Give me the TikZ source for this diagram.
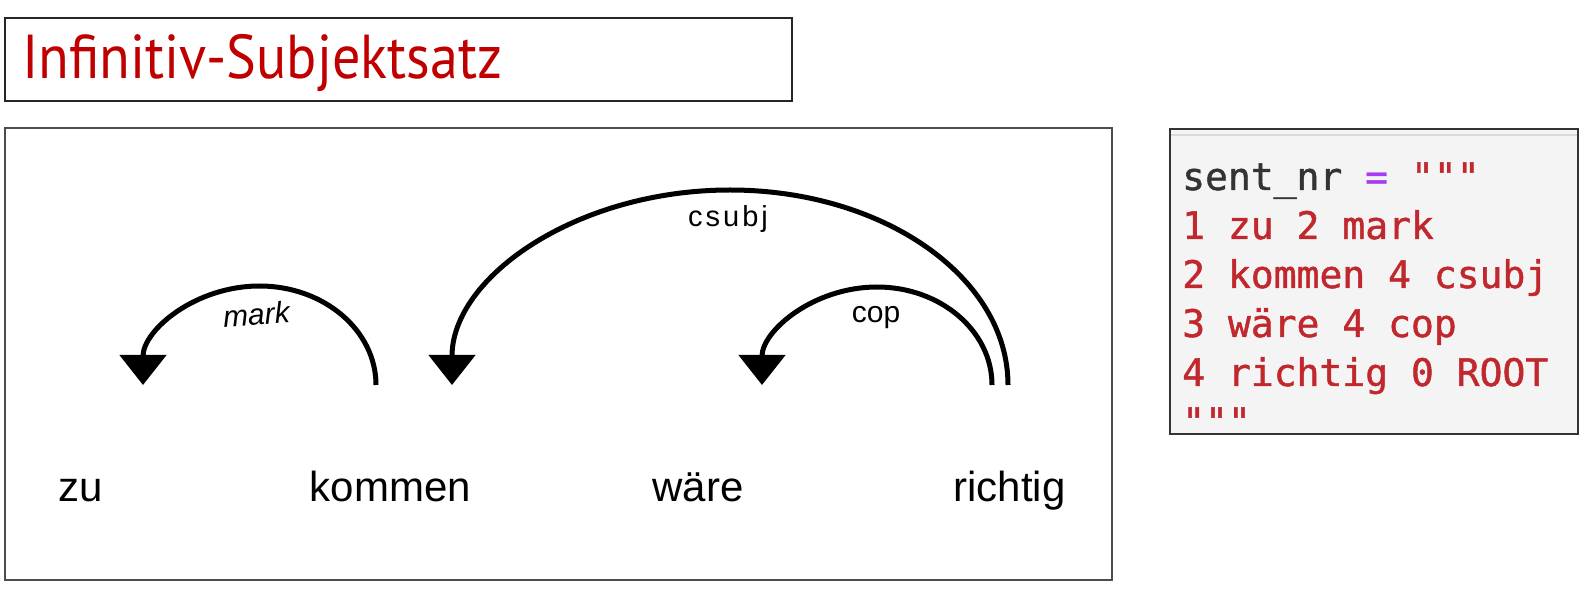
\documentclass[tikz,border=0pt]{standalone}
\usepackage{fontspec}
\usepackage{graphicx}
\usetikzlibrary{arrows.meta}
\newfontfamily\titlefont{PT Sans}
\newfontfamily\wordfont{Liberation Sans}
\newfontfamily\codefont[FakeBold=1.2]{DejaVu Sans Mono}
\definecolor{titlered}{HTML}{C00000}
\definecolor{codered}{HTML}{C0282D}
\definecolor{codegray}{HTML}{333333}
\definecolor{codepurple}{HTML}{A63CF0}
\definecolor{codebg}{HTML}{F4F4F4}
\tikzset{
  frame/.style={draw=black!85, line width=1.5pt},
  word/.style={inner sep=0pt, anchor=base, font=\wordfont\fontsize{42}{50}\selectfont},
  deplabel/.style={inner sep=0pt, anchor=base, font=\wordfont\fontsize{30}{36}\selectfont},
  dep/.style={line width=5pt, -{Triangle[width=46pt,length=30pt]}},
  codeline/.style={inner sep=0pt, anchor=base west, font=\codefont\fontsize{38}{46}\selectfont, text=codered},
}
\begin{document}
\begin{tikzpicture}[x=1pt,y=1pt]
\useasboundingbox (0,0) rectangle (1589,592);
% title
\draw[frame] (5,574) rectangle (792,491);
\node[inner sep=0pt, anchor=base west, text=titlered] (title) at (22,513)
  {\resizebox{480pt}{\height}{\titlefont\fontsize{62}{70}\selectfont Infinitiv-Subjektsatz}};
% diagram frame
\draw[frame, draw=black!70] (5,464) rectangle (1112,12);
% words
\node[word] (zu) at (81,91) {zu};
\node[word] (kommen) at (390.5,91) {kommen};
\node[word] (waere) at (698,91) {wäre};
\node[word] (richtig) at (1009.5,91) {richtig};
% arc end points
\coordinate (mark-s) at (376,207);
\coordinate (csubj-s) at (1008,207);
\coordinate (cop-s) at (992,207);
% arcs
\draw[dep] (mark-s) arc[start angle=0, end angle=180, x radius=116.5pt, y radius=99pt] coordinate (mark-e);
\draw[dep] (csubj-s) arc[start angle=0, end angle=180, x radius=278pt, y radius=195pt] coordinate (csubj-e);
\draw[dep] (cop-s) arc[start angle=0, end angle=180, x radius=115pt, y radius=98pt] coordinate (cop-e);
% labels
\node[deplabel, rotate=4, font=\wordfont\itshape\fontsize{30}{36}\selectfont] (lmark) at (257,267) {mark};
\node[deplabel, font=\wordfont\fontsize{29}{36}\selectfont] (lcsubj) at (728,365) {c\kern3pt s\kern3pt u\kern3pt b\kern3pt j};
\node[deplabel] (lcop) at (876,269) {cop};
% code box
\draw[frame, fill=codebg, draw=black!80] (1170,463) rectangle (1578,158);
\draw[draw=black!15, line width=2pt] (1171,457) -- (1577,457);
\begin{scope}
\clip (1171,462) rectangle (1577,159);
\node[codeline, text=codegray] (c0) at (1182,402) {sent\_nr \textcolor{codepurple}{=} \textcolor{codered}{"""}};
\node[codeline] (c1) at (1182,353) {1 zu 2 mark};
\node[codeline] (c2) at (1182,304) {2 kommen 4 csubj};
\node[codeline] (c3) at (1182,255) {3 wäre 4 cop};
\node[codeline] (c4) at (1182,206) {4 richtig 0 ROOT};
\node[codeline] (c5) at (1182,157) {"""};
\end{scope}
\end{tikzpicture}
\end{document}
